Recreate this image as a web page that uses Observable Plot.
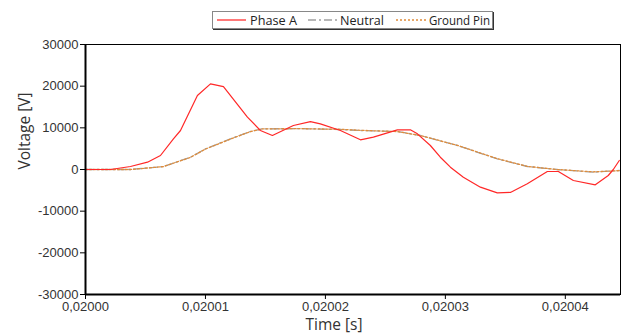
<!DOCTYPE html>
<html><head><meta charset="utf-8">
<script src="https://cdn.jsdelivr.net/npm/d3@7"></script>
<script src="https://cdn.jsdelivr.net/npm/@observablehq/plot@0.6"></script>
<style>
body{margin:0;background:#fff;}
#wrap{position:relative;width:622px;height:336px;}
#legend{position:absolute;left:212px;top:11px;width:279px;height:16px;border:1px solid #888;box-shadow:1px 1px 0 #333;background:#fff;}
</style></head>
<body><div id="wrap"><div style="height:36px"></div><div id="chart"></div>
<div id="legend"><svg width="279" height="16" style="display:block;font-family:'Open Sans';font-size:12px;fill:#222">
<line x1="4" x2="33" y1="8" y2="8" stroke="#ff3030" stroke-width="1.3"/>
<text x="37" y="12.5" textLength="47" lengthAdjust="spacingAndGlyphs">Phase A</text>
<line x1="95" x2="124" y1="8" y2="8" stroke="#a0a0a0" stroke-width="1.3" stroke-dasharray="8,3,2,3"/>
<text x="127" y="12.5" textLength="44" lengthAdjust="spacingAndGlyphs">Neutral</text>
<line x1="183" x2="215" y1="8" y2="8" stroke="#e08c3a" stroke-width="1.3" stroke-dasharray="2,2"/>
<text x="216" y="12.5" textLength="61" lengthAdjust="spacingAndGlyphs">Ground Pin</text>
</svg></div></div>
<script>
// time offsets in microseconds from 0.02 s
const phaseT = [0,2.08,3.75,5.17,6.25,7.33,7.92,9.33,10.42,11.5,13.5,14.58,15.58,17.33,18.75,19.58,21.25,22.92,24,26,27.08,27.67,28.75,29.58,30.42,31.5,32.92,34.33,35.42,36.83,38.5,39.42,40.67,42.5,43.58,44,44.5];
const phaseV = [0,0,720,1760,3360,7360,9360,17760,20560,19900,12560,9360,8160,10560,11500,10960,9360,7130,7760,9520,9520,8560,5760,2950,560,-1840,-4240,-5600,-5500,-3440,-480,-480,-2640,-3680,-1440,0,2160];
const neutralT = [0,3.75,6.5,8.75,10,12.08,13.75,14.75,17.92,21.25,22.92,26,27.92,31,34.33,36.83,39.33,42.33,44.5];
const neutralV = [0,0,720,2950,4960,7360,9120,9760,9800,9600,9360,9120,8160,5760,2560,720,0,-640,-240];
const groundT = [0,3.75,6.5,8.75,10,12.08,13.75,14.75,17.92,21.25,22.92,26,27.92,31,34.33,36.83,39.33,42.33,44.5];
const groundV = [0,0,700,2900,4900,7300,9100,9750,9800,9650,9400,9100,8150,5800,2600,750,0,-560,-280];
const xTicks = [0.02,0.02001,0.02002,0.02003,0.02004];
const yTicks = [-30000,-20000,-10000,0,10000,20000,30000];

const toRows = (T,V,s) => T.map((t,i)=>({t:0.02+t*1e-6, v:V[i], s}));
const phase = toRows(phaseT,phaseV,"Phase A");
const neutral = toRows(neutralT,neutralV,"Neutral");
const ground = toRows(groundT,groundV,"Ground Pin");
const xmin = 0.02, xmax = 0.0200446;
const tickFont = "'Liberation Sans', Arial, sans-serif";

const chart = Plot.plot({
  width:622, height:300,
  marginLeft:85, marginRight:2, marginTop:8, marginBottom:42,
  style:{background:"#fff", color:"black"},
  x:{domain:[xmin,xmax], label:null},
  y:{domain:[-30000,30000], label:null},
  marks:[
    Plot.line(neutral,{x:"t",y:"v",stroke:"#a0a0a0",strokeWidth:1.3,strokeDasharray:"8,3,2,3",curve:"linear",clip:true}),
    Plot.line(ground,{x:"t",y:"v",stroke:"#e08c3a",strokeWidth:1.3,strokeDasharray:"2,2",curve:"linear",clip:true}),
    Plot.line(phase,{x:"t",y:"v",stroke:"#ff2828",strokeWidth:1.2,curve:"linear",clip:true}),
    Plot.frame({stroke:"black",strokeWidth:1}),
    Plot.ruleX([xmin],{stroke:"black",strokeWidth:2}),
    Plot.ruleY([-30000],{stroke:"black",strokeWidth:2}),
    Plot.axisX({ticks:xTicks, tickFormat:d=>d.toFixed(5).replace(".",","), tickSize:5, tickPadding:2, fontSize:13, fontFamily:tickFont, fill:"#333", label:null}),
    Plot.axisY({ticks:yTicks, tickFormat:d=>String(d), tickSize:5, tickPadding:2, fontSize:13, fontFamily:tickFont, fill:"#333", label:null}),
    Plot.text(["Time [s]"],{frameAnchor:"bottom", dx:-19, dy:35, fontSize:15.5, fontFamily:"'Open Sans'", fill:"#333"}),
    Plot.text(["Voltage [V]"],{frameAnchor:"left", rotate:-90, dx:-60, fontSize:15.5, fontFamily:"'Open Sans'", fill:"#333"})
  ]
});
document.getElementById("chart").appendChild(chart);
</script></body></html>
